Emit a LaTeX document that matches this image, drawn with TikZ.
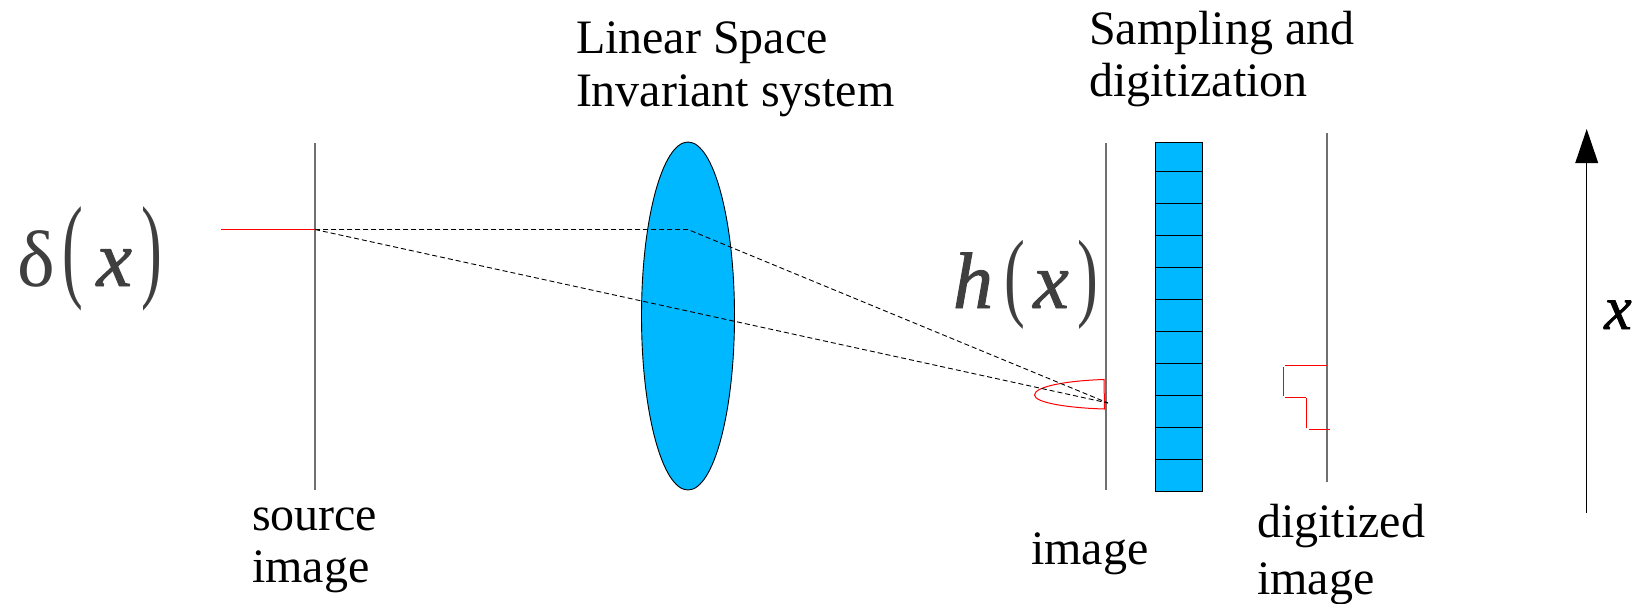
\documentclass[tikz,border=0pt]{standalone}
\usepackage{fontspec}
\usepackage{graphicx}
\usetikzlibrary{shapes.geometric}
\setmainfont{Liberation Serif}
\newfontfamily\heavyit[ItalicFont={Liberation Serif Italic},ItalicFeatures={FakeBold=1.2}]{Liberation Serif}
\definecolor{lensblue}{HTML}{00B8FF}
\definecolor{mathgrey}{HTML}{3F3F3F}
\definecolor{axisgrey}{HTML}{707070}
\newcommand{\tallparen}[2]{\scalebox{0.78}[#1]{#2}}
\newcommand{\heavyvar}[1]{{\heavyit\itshape #1}}
\tikzset{
  x=1pt,y=-1pt,
  lbl/.style={anchor=base west,inner sep=0pt,outer sep=0pt,align=left,font=\fontsize{48}{62}\selectfont},
  plane/.style={draw=axisgrey,line width=1.2pt},
  redline/.style={draw=red,line width=1pt},
  ray/.style={draw=black,line width=0.9pt,dash pattern=on 5pt off 3pt},
  celled/.style={draw=black,fill=lensblue,line width=0.9pt},
  mathlbl/.style={anchor=base west,inner sep=0pt,outer sep=0pt,text=mathgrey,font=\fontsize{80}{86}\selectfont},
}
\begin{document}
\begin{tikzpicture}
\useasboundingbox (0,0) rectangle (1643,603);
% lens
\node[celled,ellipse,minimum width=93pt,minimum height=348pt,inner sep=0pt] (lens) at (688,316) {};
% planes
\coordinate (srcT) at (315,143); \coordinate (srcB) at (315,490);
\coordinate (imgT) at (1106,143); \coordinate (imgB) at (1106,490);
\coordinate (digT) at (1327,133); \coordinate (digB) at (1327,482);
\draw[plane] (srcT) -- (srcB);
\draw[plane] (imgT) -- (imgB);
\draw[plane] (digT) -- (digB);
% sampling stack
\node[celled,rectangle,anchor=north west,minimum width=47pt,minimum height=29pt,inner sep=0pt] (celltop) at (1155,142.4) {};
\foreach \i in {0,...,9}{
  \node[celled,rectangle,anchor=north west,minimum width=47pt,minimum height=31.97pt,inner sep=0pt] (cell\i) at (1155,171.4+31.97*\i) {};
}
% red source
\coordinate (srcL) at (221,229.5); \coordinate (srcP) at (315,229.5);
\draw[redline] (srcL) -- (srcP);
% red PSF
\coordinate (psfT) at (1104,379.5); \coordinate (psfL) at (1034.5,395); \coordinate (psfB) at (1104.5,409);
\draw[redline] (psfT) .. controls (1070,380.5) and (1034.5,386) .. (psfL) .. controls (1034.5,403) and (1070,408) .. (psfB) -- cycle;
% red digitized
\coordinate (d1) at (1327,365); \coordinate (d2) at (1285,365);
\coordinate (d3) at (1283,367); \coordinate (d4) at (1283,396);
\coordinate (d5) at (1285,397); \coordinate (d6) at (1306,397);
\coordinate (d7) at (1306,398); \coordinate (d8) at (1306,428);
\coordinate (d9) at (1309,429); \coordinate (d10) at (1330,429);
\draw[redline] (d1) -- (d2);
\draw[redline] (d3) -- (d4);
\draw[redline] (d5) -- (d6);
\draw[redline] (d7) -- (d8);
\draw[redline] (d9) -- (d10);
% rays
\coordinate (rayA) at (315,229.5); \coordinate (rayB) at (688,229.5); \coordinate (rayC) at (1108,403);
\draw[ray] (rayA) -- (rayB) -- (rayC);
\draw[ray] (rayA) -- (rayC);
% axis
\coordinate (axB) at (1586.7,513); \coordinate (axT) at (1586.7,160); \coordinate (axTip) at (1586.7,129);
\coordinate (axL) at (1575.2,163); \coordinate (axR) at (1598.2,163);
\draw[black,line width=1.1pt] (axB) -- (axT);
\fill[black] (axTip) -- (axR) -- (axL) -- cycle;
% labels
\node[lbl] (lsi1) at (576,53) {Linear Space};
\node[lbl] (lsi2) at (576,106) {Invariant system};
\node[lbl] (sd1) at (1089,44) {Sampling and};
\node[lbl] (sd2) at (1089,96) {digitization};
\node[lbl] (src1) at (252,530) {source};
\node[lbl] (src2) at (252,582) {image};
\node[lbl] (img) at (1031,564) {image};
\node[lbl] (dig1) at (1257,537) {digitized};
\node[lbl] (dig2) at (1257,594) {image};
\node[mathlbl] (delta) at (17,286) {δ\kern 8pt\tallparen{1.44}{(}\kern 13pt\heavyvar{x}\kern 10pt\tallparen{1.44}{)}};
\node[mathlbl] (hx) at (953,308) {\heavyvar{h}\kern 11.5pt\tallparen{1.23}{(}\kern 8pt\heavyvar{x}\kern 9pt\tallparen{1.23}{)}};
\node[anchor=base west,inner sep=0pt,text=black,font=\fontsize{62}{70}\selectfont] (xl) at (1604,329) {\heavyvar{x}};
\end{tikzpicture}
\end{document}
